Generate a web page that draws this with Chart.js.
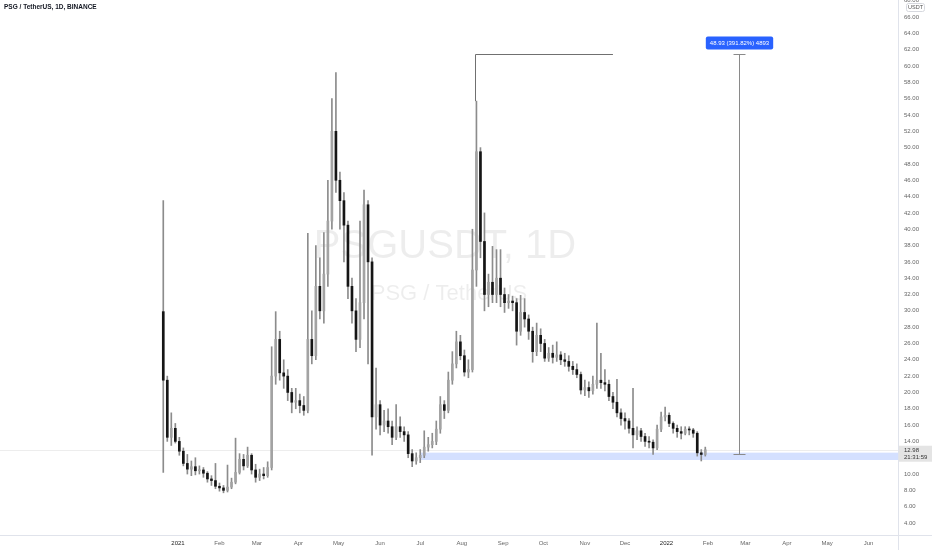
<!DOCTYPE html>
<html><head><meta charset="utf-8">
<script src="https://cdn.jsdelivr.net/npm/chart.js@4/dist/chart.umd.min.js"></script>
<style>html,body{margin:0;padding:0;background:#fff;}#wrap{width:932px;height:550px;position:relative}</style>
</head><body><div id="wrap"><canvas id="c" width="932" height="550"></canvas></div>
<script>
const chartTitle = 'PSG / TetherUS, 1D, BINANCE';
const watermarkMain = 'PSGUSDT, 1D';
const watermarkSub = 'PSG / TetherUS';
const firstCandleDate = '2020-12-21';
const candleStepDays = 3;

const openPrices = [29.9,21.5,14.5,15.6,14.0,12.8,11.3,10.6,10.9,10.4,10.5,10.1,9.4,9.2,8.5,8.3,8.0,8.4,9.0,10.2,11.8,11.0,12.3,10.5,9.6,10.0,9.8,10.8,22.0,26.5,22.4,22.0,20.0,18.8,19.0,18.4,17.8,26.5,24.5,33.0,30.0,34.5,41.0,52.0,46.0,43.5,40.5,33.0,30.0,26.5,31.0,43.0,36.0,17.0,18.5,16.0,16.5,15.8,14.5,15.8,15.2,14.8,12.5,11.6,12.0,12.3,13.3,13.6,14.0,15.5,18.5,17.8,21.5,23.5,26.2,24.5,22.5,22.8,35.0,49.5,38.5,32.0,33.5,32.0,34.0,32.0,31.0,31.2,31.0,27.5,29.8,29.0,27.5,25.0,27.0,26.0,24.2,24.8,24.3,24.6,24.0,23.8,23.2,22.8,22.2,20.3,20.6,20.2,21.0,21.5,21.2,21.0,19.5,18.8,17.5,16.8,16.5,15.6,14.8,15.3,14.6,14.0,13.9,13.2,15.5,17.0,17.2,16.2,15.6,15.2,15.0,15.5,15.4,15.0,12.6,12.4];
const highPrices = [43.5,22.0,17.5,16.2,14.5,13.2,12.4,11.6,12.0,11.0,10.8,10.3,9.8,11.3,8.9,8.6,11.1,9.5,14.4,12.5,12.4,13.3,12.5,11.2,10.6,10.8,11.5,25.6,29.9,27.5,24.0,22.8,20.5,20.5,19.8,19.5,39.5,30.0,38.0,36.5,39.6,46.0,56.0,59.2,47.0,44.5,41.0,34.0,31.5,41.0,44.8,43.5,36.5,23.0,19.0,17.8,18.0,16.5,18.5,17.0,15.8,15.2,13.0,12.6,13.0,15.3,14.5,15.0,16.5,19.5,19.0,22.5,25.0,27.5,27.0,25.2,24.0,40.0,55.7,50.0,42.0,34.5,37.9,37.5,37.5,32.8,32.0,31.8,31.5,31.9,31.5,29.5,28.0,28.5,27.8,26.5,25.5,25.8,26.2,25.0,24.8,24.5,23.8,23.5,22.5,21.5,21.3,22.0,28.5,24.8,22.8,21.5,20.0,21.6,18.0,17.5,16.8,20.5,15.8,15.6,15.0,14.6,14.2,16.0,17.6,18.2,17.5,16.4,16.0,15.8,15.8,15.8,15.6,15.2,13.0,13.3];
const lowPrices = [10.2,14.0,13.5,13.8,12.3,11.0,10.0,9.8,9.9,10.0,9.6,9.0,8.6,8.2,7.9,7.7,7.8,8.2,8.8,10.0,10.5,10.8,10.0,9.0,9.2,9.4,9.6,10.5,21.0,21.5,20.5,19.0,17.5,18.0,17.5,17.2,17.5,23.5,24.0,29.0,28.5,33.0,40.0,44.5,40.0,36.0,31.5,28.5,25.0,25.5,29.0,23.5,12.3,15.5,14.8,15.2,15.0,13.6,14.2,14.5,14.0,12.0,10.9,11.2,11.4,12.0,12.8,13.2,13.6,15.0,16.8,17.5,21.0,23.0,24.0,22.0,21.8,22.5,33.0,36.5,30.0,30.5,31.0,31.0,30.5,29.8,30.3,30.0,25.8,27.0,28.0,26.5,23.7,24.5,25.0,23.8,23.8,23.6,23.8,23.4,23.2,22.6,22.2,21.8,19.8,19.6,19.4,19.8,20.5,20.5,20.2,19.0,18.0,17.0,16.0,15.5,15.0,13.2,14.2,14.0,13.4,13.2,12.4,13.0,15.2,16.5,15.8,15.0,14.5,14.3,14.8,14.8,14.5,12.2,11.6,12.2];
const closePrices = [21.5,14.5,15.6,14.0,12.8,11.3,10.6,10.9,10.4,10.5,10.1,9.4,9.2,8.5,8.3,8.0,8.4,9.0,10.2,11.8,11.0,12.3,10.5,9.6,10.0,9.8,10.8,22.0,26.5,22.4,22.0,20.0,18.8,19.0,18.4,17.8,26.5,24.5,33.0,30.0,34.5,41.0,52.0,46.0,43.5,40.5,33.0,30.0,26.5,31.0,43.0,36.0,17.0,18.5,16.0,16.5,15.8,14.5,15.8,15.2,14.8,12.5,11.6,12.0,12.3,13.3,13.6,14.0,15.5,18.5,17.8,21.5,23.5,26.2,24.5,22.5,22.8,35.0,49.5,38.5,32.0,33.5,32.0,34.0,32.0,31.0,31.2,31.0,27.5,29.8,29.0,27.5,25.0,27.0,26.0,24.2,24.8,24.3,24.6,24.0,23.8,23.2,22.8,22.2,20.3,20.6,20.2,21.0,21.5,21.2,21.0,19.5,18.8,17.5,16.8,16.5,15.6,14.8,15.3,14.6,14.0,13.9,13.2,15.5,17.0,17.2,16.2,15.6,15.2,15.0,15.5,15.4,15.0,12.6,12.4,12.98];

const monthTickDates = ['2021-01-01','2021-02-01','2021-03-01','2021-04-01','2021-05-01','2021-06-01','2021-07-01','2021-08-01','2021-09-01','2021-10-01','2021-11-01','2021-12-01','2022-01-01','2022-02-01','2022-03-01','2022-04-01','2022-05-01','2022-06-01'];
const monthTickLabels = ['2021','Feb','Mar','Apr','May','Jun','Jul','Aug','Sep','Oct','Nov','Dec','2022','Feb','Mar','Apr','May','Jun'];
const priceTicks = [4,6,8,10,12,14,16,18,20,22,24,26,28,30,32,34,36,38,40,42,44,46,48,50,52,54,56,58,60,62,64,66,68];

const lastPrice = 12.98;
const lastPriceTime = '21:31:59';
const supportZoneLow = 11.72, supportZoneHigh = 12.62, supportZoneStart = '2021-07-01';
const measureLow = 12.488, measureHigh = 61.418, measureDate = '2022-02-24';
const measureLabel = '48.93 (391.82%) 4893';
const peakLinePrice = 61.418, peakLineLow = 55.7, peakLineStart = '2021-08-11', peakLineEnd = '2021-11-22';
const viewStart = '2020-08-21', viewEnd = '2022-06-23';
const priceMin = 2.53, priceMax = 68.09;

const base = Date.UTC(2021,0,1);
function dayOf(s){ const p=s.split('-').map(Number); return (Date.UTC(p[0],p[1]-1,p[2])-base)/86400000; }
const firstDay = dayOf(firstCandleDate);
const candleDays = openPrices.map((_,i)=>firstDay + i*candleStepDays);

const wickData = candleDays.map((d,i)=>({x:d, y:[lowPrices[i], highPrices[i]]}));
const bodyData = candleDays.map((d,i)=>({x:d, y:[openPrices[i], closePrices[i]]}));
const bodyColors = openPrices.map((o,i)=> closePrices[i] >= o ? '#a3a3a3' : '#151515');

const FONT = '"Liberation Sans", Arial, sans-serif';

const underlay = {
  id:'underlay',
  beforeDraw(chart){
    const c = chart.ctx; c.save(); c.fillStyle='#fff'; c.fillRect(0,0,chart.width,chart.height); c.restore();
  },
  beforeDatasetsDraw(chart){
    const c = chart.ctx, x = chart.scales.x, y = chart.scales.y, a = chart.chartArea;
    c.save();
    const cx = (a.left + a.right)/2;
    c.fillStyle = 'rgba(0,0,0,0.07)';
    c.textAlign = 'center'; c.textBaseline = 'middle';
    c.font = '40px ' + FONT;
    c.fillText(watermarkMain, cx - 4, 247);
    c.font = '22px ' + FONT;
    c.fillText(watermarkSub, cx, 294);
    const ly = Math.round(y.getPixelForValue(lastPrice)) + 0.5;
    c.strokeStyle = '#ededed'; c.lineWidth = 1;
    c.beginPath(); c.moveTo(a.left, ly); c.lineTo(a.right, ly); c.stroke();
    const zx = x.getPixelForValue(dayOf(supportZoneStart));
    const zt = y.getPixelForValue(supportZoneHigh), zb = y.getPixelForValue(supportZoneLow);
    c.fillStyle = 'rgba(41,98,255,0.2)';
    c.fillRect(zx, zt, a.right - zx, zb - zt);
    c.restore();
  },
  afterDraw(chart){
    const c = chart.ctx, x = chart.scales.x, y = chart.scales.y, a = chart.chartArea;
    c.save();
    c.strokeStyle = '#e0e3eb'; c.lineWidth = 1;
    c.beginPath(); c.moveTo(a.right + 0.5, 0); c.lineTo(a.right + 0.5, chart.height); c.stroke();
    c.beginPath(); c.moveTo(0, a.bottom + 0.5); c.lineTo(chart.width, a.bottom + 0.5); c.stroke();
    c.fillStyle = '#131722'; c.font = 'bold 6.5px ' + FONT; c.textAlign='left'; c.textBaseline='middle';
    c.fillText(chartTitle, 4, 7);
    const px1 = Math.round(x.getPixelForValue(dayOf(peakLineStart))) + 0.5;
    const px2 = x.getPixelForValue(dayOf(peakLineEnd));
    const py = Math.round(y.getPixelForValue(peakLinePrice)) + 0.5;
    const pyl = y.getPixelForValue(peakLineLow);
    c.strokeStyle = '#707070'; c.lineWidth = 1;
    c.beginPath(); c.moveTo(px2, py); c.lineTo(px1, py); c.lineTo(px1, pyl); c.stroke();
    const mx = Math.round(x.getPixelForValue(dayOf(measureDate))) + 0.5;
    const mt = Math.round(y.getPixelForValue(measureHigh)) + 0.5;
    const mb = Math.round(y.getPixelForValue(measureLow)) + 0.5;
    c.strokeStyle = '#8a8a8a';
    c.beginPath(); c.moveTo(mx, mt); c.lineTo(mx, mb); c.stroke();
    c.beginPath(); c.moveTo(mx-6, mt); c.lineTo(mx+6, mt); c.stroke();
    c.beginPath(); c.moveTo(mx-6, mb); c.lineTo(mx+6, mb); c.stroke();
    c.font = '6px ' + FONT;
    const tw = c.measureText(measureLabel).width;
    const bw = tw + 8, bh = 13, bx = mx - bw/2, by = mt - 18;
    c.fillStyle = '#2962ff';
    c.beginPath(); c.roundRect(bx, by, bw, bh, 2); c.fill();
    c.fillStyle = '#fff'; c.textAlign='center'; c.textBaseline='middle';
    c.fillText(measureLabel, mx, by + bh/2 + 0.5);
    const lpy = y.getPixelForValue(lastPrice);
    c.fillStyle = '#e4e4e4';
    c.fillRect(a.right + 1, lpy - 4, chart.width - a.right - 1, 16);
    c.fillStyle = '#333'; c.textAlign='left'; c.font = '6px ' + FONT;
    c.fillText(lastPrice.toFixed(2), a.right + 6, lpy + 1);
    c.fillText(lastPriceTime, a.right + 6, lpy + 8);
    c.strokeStyle = '#d6d8de'; c.fillStyle = '#fff';
    c.beginPath(); c.roundRect(a.right + 8.5, 3.5, 18, 8, 2); c.fill(); c.stroke();
    c.fillStyle = '#555'; c.font = '5.5px ' + FONT; c.textAlign='center';
    c.fillText('USDT', a.right + 17.5, 7.8);
    c.restore();
  }
};

new Chart(document.getElementById('c').getContext('2d'), {
  type: 'bar',
  data: { datasets: [
    { label:'body', data: bodyData, backgroundColor: bodyColors, barThickness: 2, minBarLength: 1, grouped: false, order: 0, borderWidth: 0 },
    { label:'wick', data: wickData, backgroundColor: '#8c8c8c', barThickness: 1, grouped: false, order: 1, borderWidth: 0 }
  ]},
  options: {
    responsive: false, animation: false, devicePixelRatio: 1,
    layout: { padding: 0 },
    plugins: { legend: { display: false }, tooltip: { enabled: false } },
    scales: {
      x: {
        type: 'linear', min: dayOf(viewStart), max: dayOf(viewEnd), offset: false,
        grid: { display: false, drawTicks: false }, border: { display: false },
        afterBuildTicks: s => { s.ticks = monthTickDates.map(d => ({ value: dayOf(d) })); },
        afterFit: s => { s.height = 15; s.paddingLeft = 0; s.paddingRight = 0; },
        ticks: { autoSkip: false, maxRotation: 0, padding: 5, font: { size: 6, family: FONT },
          color: ctx => /^\d{4}$/.test(monthTickLabels[ctx.index] || '') ? '#222' : '#666',
          callback: (v, i) => monthTickLabels[i] }
      },
      y: {
        position: 'right', min: priceMin, max: priceMax,
        grid: { display: false, drawTicks: false }, border: { display: false },
        afterBuildTicks: s => { s.ticks = priceTicks.map(v => ({ value: v })); },
        afterFit: s => { s.width = 34; s.paddingTop = 0; s.paddingBottom = 0; },
        ticks: { padding: 6, font: { size: 6, family: FONT }, color: '#666', callback: v => Number(v).toFixed(2) }
      }
    }
  },
  plugins: [underlay]
});
</script></body></html>
